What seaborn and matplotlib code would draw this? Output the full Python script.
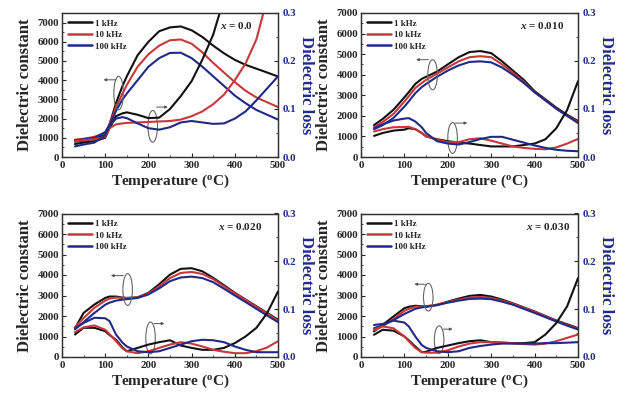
import numpy as np
import pandas as pd
import matplotlib
matplotlib.use("Agg")
import matplotlib.pyplot as plt
import seaborn as sns
from matplotlib.patches import Ellipse
from matplotlib.ticker import MultipleLocator, FormatStrFormatter

# ---------------- data ----------------
T = [30, 50, 75, 100, 110, 125, 140, 150, 175, 200, 225, 250, 275, 300, 325, 350, 375, 400, 425, 450, 475, 500]
freqs = ["1 kHz", "10 kHz", "100 kHz"]

# x = 0.0
epsA_1k = [800, 850, 950, 1200, 1700, 2800, 3700, 4200, 5300, 6000, 6550, 6750, 6800, 6600, 6250, 5800, 5400, 5060, 4800, 4600, 4400, 4190]
epsA_10k = [900, 950, 1050, 1250, 1700, 2600, 3300, 3750, 4700, 5350, 5800, 6080, 6120, 5900, 5450, 4900, 4400, 3900, 3450, 3100, 2850, 2600]
epsA_100k = [870, 920, 1000, 1300, 1650, 2400, 3000, 3300, 4000, 4700, 5150, 5420, 5430, 5150, 4700, 4200, 3700, 3200, 2800, 2450, 2200, 1950]
lossA_1k = [0.027, 0.030, 0.033, 0.040, 0.060, 0.085, 0.091, 0.093, 0.088, 0.081, 0.082, 0.100, 0.127, 0.158, 0.203, 0.255, 0.330, np.nan, np.nan, np.nan, np.nan, np.nan]
lossA_10k = [0.033, 0.035, 0.037, 0.042, 0.060, 0.068, 0.070, 0.071, 0.072, 0.073, 0.074, 0.075, 0.078, 0.085, 0.095, 0.110, 0.130, 0.160, 0.195, 0.245, 0.330, np.nan]
lossA_100k = [0.022, 0.026, 0.030, 0.045, 0.065, 0.080, 0.083, 0.081, 0.070, 0.060, 0.057, 0.062, 0.072, 0.075, 0.072, 0.069, 0.070, 0.080, 0.095, 0.118, 0.143, 0.168]

# x = 0.010
epsB_1k = [1550, 1850, 2300, 2900, 3150, 3550, 3800, 3900, 4150, 4500, 4850, 5100, 5150, 5050, 4650, 4200, 3750, 3200, 2800, 2400, 2050, 1750]
epsB_10k = [1450, 1700, 2100, 2700, 2950, 3350, 3600, 3750, 4050, 4350, 4650, 4850, 4900, 4850, 4500, 4100, 3650, 3150, 2750, 2350, 2000, 1700]
epsB_100k = [1350, 1550, 1900, 2450, 2700, 3100, 3400, 3550, 3900, 4200, 4450, 4620, 4650, 4600, 4350, 4000, 3600, 3150, 2750, 2350, 2000, 1650]
lossB_1k = [0.044, 0.050, 0.055, 0.057, 0.060, 0.058, 0.050, 0.043, 0.037, 0.033, 0.030, 0.028, 0.025, 0.022, 0.022, 0.022, 0.025, 0.028, 0.037, 0.060, 0.098, 0.158]
lossB_10k = [0.053, 0.058, 0.062, 0.0625, 0.063, 0.058, 0.050, 0.043, 0.036, 0.031, 0.031, 0.037, 0.039, 0.034, 0.028, 0.022, 0.019, 0.017, 0.016, 0.020, 0.028, 0.0375]
lossB_100k = [0.060, 0.068, 0.076, 0.080, 0.081, 0.074, 0.062, 0.050, 0.033, 0.028, 0.026, 0.031, 0.0375, 0.042, 0.042, 0.036, 0.030, 0.024, 0.019, 0.015, 0.013, 0.012]

# x = 0.020
epsC_1k = [1400, 2150, 2560, 2880, 2950, 2950, 2900, 2880, 2910, 3130, 3550, 4020, 4300, 4330, 4180, 3860, 3500, 3130, 2800, 2475, 2150, 1820]
epsC_10k = [1450, 1900, 2400, 2750, 2850, 2900, 2880, 2880, 2900, 3100, 3450, 3850, 4100, 4150, 4050, 3800, 3450, 3100, 2780, 2450, 2120, 1780]
epsC_100k = [1350, 1700, 2150, 2550, 2650, 2750, 2800, 2820, 2880, 3050, 3350, 3700, 3880, 3920, 3850, 3650, 3330, 3000, 2680, 2350, 2020, 1700]
lossC_1k = [0.047, 0.061, 0.061, 0.054, 0.046, 0.036, 0.020, 0.012, 0.019, 0.026, 0.031, 0.035, 0.024, 0.019, 0.015, 0.015, 0.019, 0.029, 0.043, 0.061, 0.092, 0.137]
lossC_10k = [0.052, 0.062, 0.066, 0.057, 0.048, 0.033, 0.018, 0.012, 0.008, 0.012, 0.019, 0.026, 0.031, 0.028, 0.022, 0.015, 0.011, 0.008, 0.008, 0.012, 0.020, 0.033]
lossC_100k = [0.060, 0.071, 0.082, 0.081, 0.075, 0.047, 0.030, 0.022, 0.012, 0.010, 0.012, 0.019, 0.026, 0.033, 0.036, 0.035, 0.031, 0.022, 0.015, 0.010, 0.010, 0.010]

# x = 0.030
epsD_1k = [1250, 1570, 1980, 2380, 2450, 2500, 2480, 2460, 2540, 2700, 2850, 2980, 3030, 2950, 2800, 2620, 2420, 2220, 2000, 1780, 1600, 1410]
epsD_10k = [1300, 1500, 1850, 2250, 2350, 2450, 2470, 2480, 2550, 2680, 2800, 2900, 2930, 2880, 2750, 2600, 2400, 2200, 1980, 1770, 1570, 1380]
epsD_100k = [1400, 1550, 1800, 2100, 2200, 2350, 2420, 2450, 2530, 2650, 2750, 2830, 2850, 2820, 2700, 2550, 2350, 2150, 1940, 1730, 1530, 1340]
lossD_1k = [0.0465, 0.057, 0.055, 0.043, 0.035, 0.022, 0.010, 0.011, 0.019, 0.024, 0.029, 0.033, 0.035, 0.031, 0.030, 0.029, 0.029, 0.031, 0.047, 0.071, 0.106, 0.165]
lossD_10k = [0.057, 0.064, 0.060, 0.043, 0.033, 0.019, 0.010, 0.009, 0.009, 0.014, 0.022, 0.028, 0.031, 0.031, 0.030, 0.029, 0.027, 0.026, 0.028, 0.033, 0.040, 0.047]
lossD_100k = [0.067, 0.069, 0.076, 0.072, 0.064, 0.043, 0.025, 0.019, 0.012, 0.010, 0.012, 0.019, 0.023, 0.026, 0.028, 0.028, 0.028, 0.028, 0.029, 0.029, 0.030, 0.031]

panel_labels = ["0.0", "0.010", "0.020", "0.030"]
eps_ymax = [7500, 7000, 7000, 7000]

# ---------------- style ----------------
sns.set_style("ticks")
plt.rcParams["font.family"] = ["Liberation Serif", "DejaVu Serif"]
plt.rcParams["font.weight"] = "bold"
plt.rcParams["axes.labelweight"] = "bold"
plt.rcParams["mathtext.fontset"] = "custom"
plt.rcParams["mathtext.rm"] = "Liberation Serif:bold"
plt.rcParams["mathtext.it"] = "Liberation Serif:italic:bold"
plt.rcParams["mathtext.bf"] = "Liberation Serif:bold"

colors = ["#111111", "#c8383a", "#1f2a86"]
navy = "#1f2a8c"
lw = 1.5

fig = plt.figure(figsize=(6.31, 4.05), dpi=100)

W, H = 631, 405
rects = [
    (62 / W, 1 - 157 / H, 216 / W, 144 / H),
    (361 / W, 1 - 157 / H, 217 / W, 144 / H),
    (62 / W, 1 - 357 / H, 216 / W, 143.5 / H),
    (361 / W, 1 - 357 / H, 217 / W, 143.5 / H),
]
label_xpos = [0.73, 0.735, 0.72, 0.76]

# ellipse annotations: (center T, center eps, height eps, arrow start T, arrow end T, arrow eps)
ann = [
    [(131, 3330, 1750, 126, 96, 4020), (210, 1600, 1650, 219, 245, 2600)],
    [(165, 4000, 1460, 155, 127, 4730), (211, 925, 1500, 217, 245, 1650)],
    [(152, 3290, 1550, 142, 113, 3970), (205, 930, 1550, 213, 237, 1630)],
    [(155, 2917, 1350, 148, 123, 3550), (180, 843, 1350, 190, 211, 1360)],
]

eps_sets = [
    [epsA_1k, epsA_10k, epsA_100k],
    [epsB_1k, epsB_10k, epsB_100k],
    [epsC_1k, epsC_10k, epsC_100k],
    [epsD_1k, epsD_10k, epsD_100k],
]
loss_sets = [
    [lossA_1k, lossA_10k, lossA_100k],
    [lossB_1k, lossB_10k, lossB_100k],
    [lossC_1k, lossC_10k, lossC_100k],
    [lossD_1k, lossD_10k, lossD_100k],
]

for i in range(4):
    ax = fig.add_axes(rects[i])
    ax2 = ax.twinx()
    for vals, col, name in zip(eps_sets[i], colors, freqs):
        df = pd.DataFrame({"T": T, "v": vals})
        sns.lineplot(data=df, x="T", y="v", ax=ax, color=col, lw=lw, label=name,
                     estimator=None, sort=False)
    for vals, col in zip(loss_sets[i], colors):
        df = pd.DataFrame({"T": T, "v": vals})
        sns.lineplot(data=df, x="T", y="v", ax=ax2, color=col, lw=lw, legend=False,
                     estimator=None, sort=False)

    ax.set_xlim(0, 500)
    ax.set_ylim(0, eps_ymax[i])
    ax2.set_ylim(0, 0.3)
    ax.xaxis.set_major_locator(MultipleLocator(100))
    ax.xaxis.set_minor_locator(MultipleLocator(50))
    ax.yaxis.set_major_locator(MultipleLocator(1000))
    ax.yaxis.set_minor_locator(MultipleLocator(500))
    ax2.yaxis.set_major_locator(MultipleLocator(0.1))
    ax2.yaxis.set_minor_locator(MultipleLocator(0.05))
    ax2.yaxis.set_major_formatter(FormatStrFormatter("%.1f"))

    for a in (ax, ax2):
        a.tick_params(which="major", direction="in", length=3, width=0.8, labelsize=7.8, pad=2)
        a.tick_params(which="minor", direction="in", length=1.6, width=0.6)
        for sp in a.spines.values():
            sp.set_linewidth(0.9)
            sp.set_color("#333333")
    ax.tick_params(axis="x", pad=3)
    ax2.tick_params(axis="y", labelcolor=navy, pad=3)
    for lab in ax.get_xticklabels() + ax.get_yticklabels() + ax2.get_yticklabels():
        lab.set_fontweight("bold")

    ax.set_xlabel(r"Temperature ($^{\rm o}$C)", fontsize=11, fontweight="bold", labelpad=2)
    ax.set_ylabel("Dielectric constant", fontsize=12, fontweight="bold", labelpad=3)
    ax2.set_ylabel("Dielectric loss", fontsize=12, fontweight="bold", color=navy,
                   rotation=270, labelpad=13)

    leg = ax.legend(loc="upper left", frameon=False, prop=dict(size=6.5, weight="bold"),
                    handlelength=2.6, labelspacing=0.35, borderaxespad=0.3, handletextpad=0.4)
    for h in leg.get_lines():
        h.set_linewidth(1.8)

    ax.text(label_xpos[i], 0.91, r"$x$ = " + panel_labels[i], transform=ax.transAxes,
            fontsize=8, fontweight="bold", va="center", ha="left")

    for (cx, cy, eh, a0, a1, ay) in ann[i]:
        ax.add_patch(Ellipse((cx, cy), width=22, height=eh, fill=False,
                             edgecolor="#666666", lw=0.8, zorder=5))
        ax.annotate("", xy=(a1, ay), xytext=(a0, ay),
                    arrowprops=dict(arrowstyle="-|>", color="#555555", lw=0.7,
                                    mutation_scale=4, shrinkA=0, shrinkB=0), zorder=5)

fig.savefig("out.png", dpi=100)
